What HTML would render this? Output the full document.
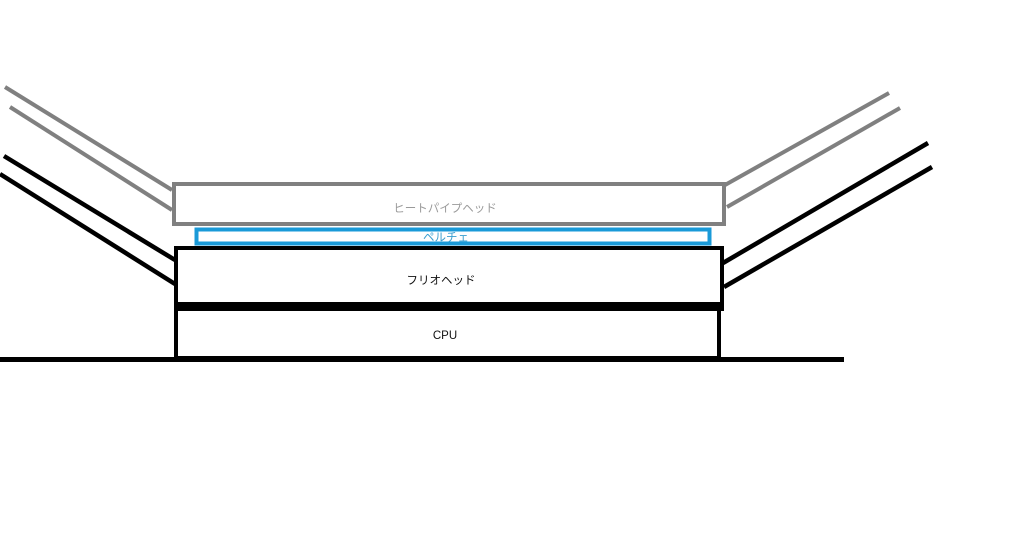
<!DOCTYPE html>
<html>
<head>
<meta charset="utf-8">
<style>
  html, body { margin: 0; padding: 0; background: #fff; }
  body { width: 1024px; height: 557px; overflow: hidden; }
  svg { display: block; }
  text { font-family: "Liberation Sans", "Noto Sans CJK JP", sans-serif; font-size: 11.5px; }
</style>
</head>
<body>
<svg width="1024" height="557" viewBox="0 0 1024 557" xmlns="http://www.w3.org/2000/svg">
  <rect x="0" y="0" width="1024" height="557" fill="#ffffff"/>

  <!-- left pipes -->
  <line x1="5" y1="87" x2="172" y2="190" stroke="#808080" stroke-width="4"/>
  <line x1="10" y1="107" x2="172" y2="210" stroke="#808080" stroke-width="4"/>
  <line x1="4" y1="156" x2="175" y2="260" stroke="#000" stroke-width="4.5"/>
  <line x1="0" y1="174" x2="175" y2="284" stroke="#000" stroke-width="4.5"/>

  <!-- right pipes -->
  <line x1="725" y1="185" x2="889" y2="93" stroke="#808080" stroke-width="4"/>
  <line x1="727" y1="207" x2="900" y2="108" stroke="#808080" stroke-width="4"/>
  <line x1="723" y1="263" x2="928" y2="143" stroke="#000" stroke-width="4.5"/>
  <line x1="724" y1="287" x2="932" y2="167" stroke="#000" stroke-width="4.5"/>

  <!-- heat pipe head -->
  <rect x="174" y="184" width="550" height="40" fill="#fff" stroke="#808080" stroke-width="4"/>
  <text x="445" y="212" text-anchor="middle" fill="#9a9a9a">ヒートパイプヘッド</text>

  <!-- peltier -->
  <rect x="196.5" y="229.5" width="513" height="14" fill="#fff" stroke="#1a9ad8" stroke-width="4"/>
  <text x="446" y="241" text-anchor="middle" fill="#3a9fd0">ペルチェ</text>

  <!-- furio head -->
  <rect x="176" y="248" width="546" height="58" fill="#fff" stroke="#000" stroke-width="4"/>
  <text x="441" y="284" text-anchor="middle" fill="#111">フリオヘッド</text>

  <!-- CPU -->
  <rect x="176" y="309" width="543" height="49" fill="#fff" stroke="#000" stroke-width="4"/>
  <rect x="174" y="302" width="550" height="9" fill="#000"/>
  <text x="445" y="339" text-anchor="middle" fill="#111">CPU</text>

  <!-- base line -->
  <line x1="0" y1="359.5" x2="844" y2="359.5" stroke="#000" stroke-width="5"/>
</svg>
</body>
</html>
